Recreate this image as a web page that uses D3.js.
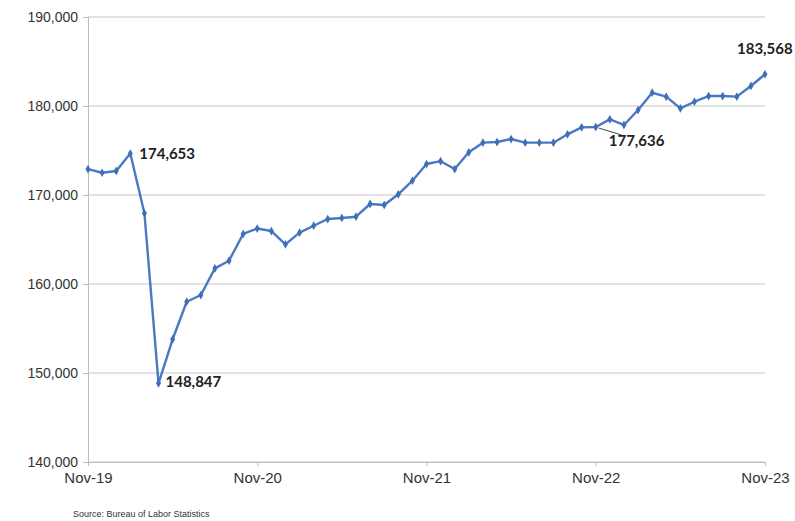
<!DOCTYPE html>
<html>
<head>
<meta charset="utf-8">
<script src="https://cdn.jsdelivr.net/npm/d3@7"></script>
<style>
  body { margin: 0; background: #fff; }
  svg { display: block; }
</style>
</head>
<body>
<script>
// monthly values, Nov-19 .. Nov-23
const months = d3.range(49);
const values = [
  172900, 172500, 172700, 174653, 167950, 148847, 153790, 158010, 158760, 161760,
  162620, 165620, 166230, 165950, 164460, 165770, 166550, 167300, 167420, 167560,
  168990, 168880, 170080, 171610, 173480, 173800, 172920, 174800, 175880, 175950,
  176290, 175880, 175880, 175880, 176820, 177600, 177636, 178500, 177870, 179550,
  181490, 181050, 179740, 180480, 181120, 181120, 181050, 182250, 183568
];
const xTickIdx = [0, 12, 24, 36, 48];
const xTickLabels = ['Nov-19', 'Nov-20', 'Nov-21', 'Nov-22', 'Nov-23'];
const yTicks = [140000, 150000, 160000, 170000, 180000, 190000];
// annotated points: index and offsets for the label
const callouts = [
  { i: 3, dx: 9, dy: 5 },
  { i: 5, dx: 7, dy: 4 },
  { i: 36, dx: 13, dy: 19, leader: true },
  { i: 48, dx: -28, dy: -20 }
];

const width = 795, height = 521;
const margin = { top: 17, right: 30, bottom: 59, left: 88 };

const svg = d3.select('body').append('svg')
  .attr('width', width)
  .attr('height', height);

const x = d3.scaleLinear()
  .domain([0, 48])
  .range([margin.left, width - margin.right]);

const y = d3.scaleLinear()
  .domain([140000, 190000])
  .range([height - margin.bottom, margin.top]);

// gridlines
svg.append('g')
  .selectAll('line')
  .data(yTicks)
  .enter().append('line')
  .attr('x1', margin.left)
  .attr('x2', width - margin.right)
  .attr('y1', d => y(d))
  .attr('y2', d => y(d))
  .attr('stroke', '#c6c6c6')
  .attr('stroke-width', 1);

// y axis
const yAxis = svg.append('g')
  .attr('transform', `translate(${margin.left},0)`)
  .call(d3.axisLeft(y).tickValues(yTicks).tickFormat(d3.format(',')).tickSize(5).tickPadding(5));
yAxis.select('.domain').attr('stroke', '#bdbdbd');
yAxis.selectAll('.tick line').attr('stroke', '#bdbdbd');
yAxis.selectAll('text')
  .attr('font-family', 'Liberation Sans, Arial, sans-serif')
  .attr('font-size', 14)
  .attr('fill', '#333');

// x axis
const xAxis = svg.append('g')
  .attr('transform', `translate(0,${height - margin.bottom})`)
  .call(d3.axisBottom(x).tickValues(xTickIdx).tickFormat((d, i) => xTickLabels[i]).tickSize(4).tickPadding(6));
xAxis.select('.domain').attr('stroke', '#bdbdbd');
xAxis.selectAll('.tick line').attr('stroke', '#bdbdbd');
xAxis.selectAll('text')
  .attr('font-family', 'Liberation Sans, Arial, sans-serif')
  .attr('font-size', 15)
  .attr('fill', '#333');

// line
const line = d3.line()
  .x((d, i) => x(months[i]))
  .y(d => y(d));

svg.append('path')
  .datum(values)
  .attr('d', line)
  .attr('fill', 'none')
  .attr('stroke', '#4a78c2')
  .attr('stroke-width', 2.4)
  .attr('stroke-linejoin', 'round');

// markers
svg.append('g')
  .selectAll('path')
  .data(values)
  .enter().append('path')
  .attr('d', d3.symbol().type(d3.symbolDiamond).size(22))
  .attr('transform', (d, i) => `translate(${x(months[i])},${y(d)})`)
  .attr('fill', '#3f6fb8');

// callouts
callouts.forEach(c => {
  const px = x(months[c.i]), py = y(values[c.i]);
  if (c.leader) {
    svg.append('line')
      .attr('x1', px + 3).attr('y1', py + 1)
      .attr('x2', px + 26).attr('y2', py + 8)
      .attr('stroke', '#444')
      .attr('stroke-width', 1);
  }
  svg.append('text')
    .attr('x', px + c.dx)
    .attr('y', py + c.dy)
    .attr('font-family', 'Lato, Open Sans, sans-serif')
    .attr('font-weight', 'bold')
    .attr('font-size', 15)
    .attr('fill', '#222')
    .text(d3.format(',')(values[c.i]));
});

// source
svg.append('text')
  .attr('x', 73)
  .attr('y', 517)
  .attr('font-family', 'Liberation Sans, Arial, sans-serif')
  .attr('font-size', 9)
  .attr('fill', '#333')
  .text('Source: Bureau of Labor Statistics');
</script>
</body>
</html>
